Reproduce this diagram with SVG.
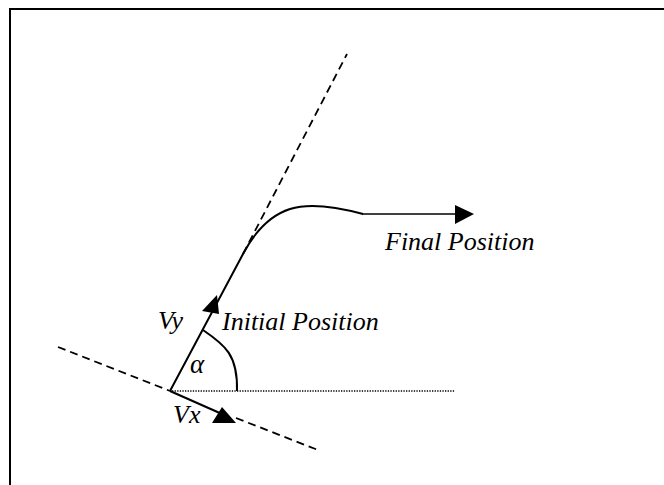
<svg xmlns="http://www.w3.org/2000/svg" width="664" height="485" viewBox="0 0 664 485">
<style>
.frame{fill:none;stroke:#000;stroke-width:2}
.solid{fill:none;stroke:#000;stroke-width:2}
.thin{fill:none;stroke:#000;stroke-width:1.5}
.dash{fill:none;stroke:#000;stroke-width:1.8;stroke-dasharray:8 5}
.dot{fill:none;stroke:#000;stroke-width:1.3;stroke-dasharray:1.3 1.3}
.head{fill:#000;stroke:none}
text{fill:#000}
</style>
<rect width="664" height="485" fill="#fff"/>
<rect class="frame" x="10" y="9" width="700" height="600"/>
<g id="connectors">
  <line class="dash" x1="58" y1="347" x2="170" y2="391"/>
  <line class="dash" x1="236" y1="418" x2="318" y2="450"/>
  <line class="dash" x1="243" y1="254" x2="347" y2="54"/>
  <line class="dot" x1="172" y1="391" x2="455" y2="391"/>
  <path class="solid" d="M170,391 L243,254 Q262,218 290,209 Q315,201 363,214"/>
  <line class="thin" x1="362" y1="214" x2="458" y2="214"/>
  <polygon class="head" points="474,214 455,205 455,224"/>
  <line class="solid" x1="170" y1="391" x2="222" y2="414"/>
  <polygon class="head" points="236,423 222,407 212,423"/>
  <polygon class="head" points="217,295 202,311 219,314"/>
  <path class="solid" d="M203,330 C225,345 238,355 237,391"/>
</g>
<g id="vy"><text x="158" y="329" font-family="Liberation Serif, DejaVu Serif, serif" font-style="italic" font-size="26">Vy</text></g>
<g id="vx"><text x="173" y="423" font-family="Liberation Serif, DejaVu Serif, serif" font-style="italic" font-size="26">Vx</text></g>
<g id="alpha"><text x="190" y="373" font-family="Liberation Serif, DejaVu Serif, serif" font-style="italic" font-size="27">α</text></g>
<g id="initial"><text x="222" y="330" font-family="Liberation Serif, DejaVu Serif, serif" font-style="italic" font-size="26">Initial Position</text></g>
<g id="final"><text x="385" y="250" font-family="Liberation Serif, DejaVu Serif, serif" font-style="italic" font-size="26">Final Position</text></g>
</svg>
